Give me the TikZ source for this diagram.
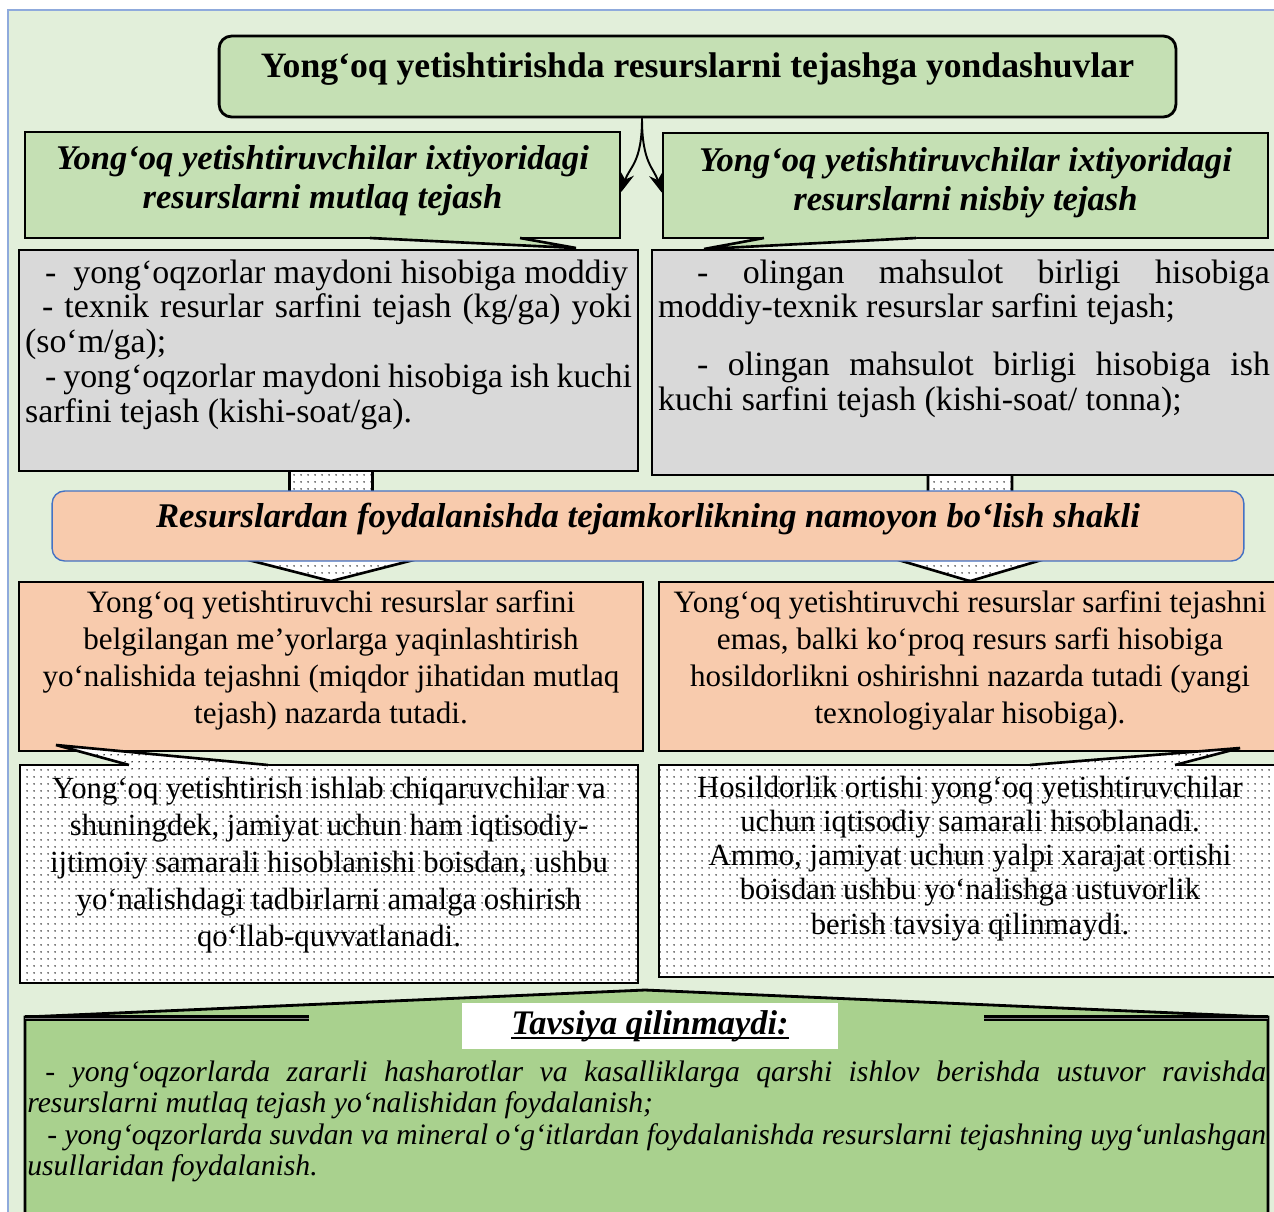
\documentclass[tikz,border=0pt]{standalone}
\usepackage{fontspec}
\setmainfont{Liberation Serif}
\usepackage{graphicx}
\usetikzlibrary{arrows.meta,patterns.meta,calc,positioning}

\definecolor{panelfill}{HTML}{E2EFDA}
\definecolor{panelline}{HTML}{8FAADC}
\definecolor{headgreen}{HTML}{C5E0B4}
\definecolor{boxgray}{HTML}{D9D9D9}
\definecolor{peach}{HTML}{F8CBAD}
\definecolor{formblue}{HTML}{4472C4}
\definecolor{advicegreen}{HTML}{A9D18E}

% box text: width, height, alignment, top skip, text
\newcommand{\cell}[5]{\parbox[c][#2][t]{#1}{#3\vspace*{#4}\strut#5}}
\newcommand{\fullline}[1]{\makebox[\hsize][s]{#1}}
\newcommand{\fitline}[1]{\resizebox{\hsize}{\height}{#1}}
\newsavebox{\linebox}
\newcommand{\lowline}[1]{\sbox{\linebox}{#1}\rlap{\rule[-2.6pt]{\wd\linebox}{1.1pt}}\usebox{\linebox}}

\tikzset{
  panel/.style={draw=panelline, line width=1.2pt, fill=panelfill},
  titlebox/.style={draw=black, line width=1.6pt, fill=headgreen, rounded corners=0.25cm,
    inner xsep=0.1cm, font=\fontsize{20.3}{24}\selectfont\bfseries},
  callbox/.style={draw=black, line width=1.5pt, fill=headgreen, inner xsep=0.1cm,
    font=\fontsize{19.7}{22.2}\selectfont\bfseries\itshape},
  calltail/.style={fill=headgreen},
  tailline/.style={draw=black, line width=1.5pt},
  graybox/.style={draw=black, line width=1pt, fill=boxgray, inner xsep=0.12cm,
    font=\fontsize{19.3}{19.9}\selectfont},
  formbox/.style={draw=formblue, line width=0.8pt, fill=peach, rounded corners=0.25cm,
    inner xsep=0.1cm, font=\fontsize{19.7}{22}\selectfont\bfseries\itshape},
  peachbox/.style={draw=black, line width=1pt, fill=peach, inner xsep=0.1cm,
    font=\fontsize{17.7}{21}\selectfont},
  dotfill/.style={preaction={fill=white}, pattern={Dots[distance=4pt, radius=0.5pt]}},
  dotbox/.style={dotfill, draw=black, line width=1.5pt, inner xsep=0.1cm,
    font=\fontsize{17.5}{21}\selectfont},
  blockarrow/.style={dotfill, draw=black, line width=1.5pt},
  splitarrow/.style={-{Stealth[length=11pt,width=8pt]}, line width=1.1pt},
  advicebox/.style={draw=black, line width=1.6pt, fill=advicegreen},
  rimline/.style={draw=black, line width=1.5pt, double=gray, double distance=0.5pt},
  verdictbox/.style={fill=white, minimum width=7.52cm, minimum height=0.92cm,
    font=\fontsize{19.6}{22}\selectfont\bfseries\itshape},
  advicetext/.style={anchor=base west, font=\fontsize{16.9}{18}\selectfont\itshape},
}

\begin{document}
\begin{tikzpicture}[x=0.02cm,y=-0.02cm]
\tikzstyle{every node}+=[inner sep=0pt]
\useasboundingbox (0,0) rectangle (1274,1211);
\clip (0,0) rectangle (1274,1211);
% background panel
\draw[panel] (8,10) rectangle (1290,1240);

% heading and the two ways
\node[titlebox] (title) at (697.5,76.5)
  {\cell{18.94cm}{1.62cm}{\centering}{0.23cm}{Yong‘oq yetishtirishda resurslarni tejashga yondashuvlar}};
\node[callbox] (mutlaq) at (322.5,185)
  {\cell{11.7cm}{2.12cm}{\centering}{0.2cm}{Yong‘oq yetishtiruvchilar ixtiyoridagi\\resurslarni mutlaq tejash}};
\node[callbox] (nisbiy) at (965.5,185.5)
  {\cell{11.9cm}{2.1cm}{\centering}{0.22cm}{Yong‘oq yetishtiruvchilar ixtiyoridagi\\resurslarni nisbiy tejash}};
\path[calltail] (370,231) -- (370,238) -- (576,248) -- (520,238) -- (520,231) -- cycle;
\draw[tailline] (370,238) -- (576,248) -- (520,238);
\path[calltail] (764,231) -- (764,238) -- (704,249) -- (916,238) -- (916,231) -- cycle;
\draw[tailline] (764,238) -- (704,249) -- (916,238);

\coordinate (split) at ($(title.south)+(-55.5,0)$);
\draw[splitarrow] (split) .. controls +(0,45) and +(8,-25) .. ([yshift=-0.14cm]mutlaq.east);
\draw[splitarrow] (split) .. controls +(0,45) and +(-8,-25) .. ([yshift=-0.14cm]nisbiy.west);

% forms of saving
\node[peachbox] (peachL) at (331,666.5)
  {\cell{12.28cm}{3.38cm}{\centering}{0.1cm}{Yong‘oq yetishtiruvchi resurslar sarfini\\
   belgilangan me’yorlarga yaqinlashtirish\\
   yo‘nalishida tejashni (miqdor jihatidan mutlaq\\
   tejash) nazarda tutadi.}};
\node[peachbox] (peachR) at (970,666.5)
  {\cell{12.24cm}{3.38cm}{\centering}{0.1cm}{Yong‘oq yetishtiruvchi resurslar sarfini tejashni\\
   emas, balki ko‘proq resurs sarfi hisobiga\\
   hosildorlikni oshirishni nazarda tutadi (yangi\\
   texnologiyalar hisobiga).}};

\draw[blockarrow] (peachL.north) -- ++(101.5,-26) -- ++(-60,0) -- ++(0,-85) -- ++(-83,0)
  -- ++(0,85) -- ++(-60,0) -- cycle;
\draw[blockarrow] (peachR.north) -- ++(88,-26) -- ++(-46,0) -- ++(0,-81) -- ++(-84,0)
  -- ++(0,81) -- ++(-46,0) -- cycle;

\node[graybox] (grayL) at (328.5,360.5)
  {\cell{12.14cm}{4.42cm}{\raggedright}{0.17cm}{\hspace*{0.4cm}-\ \ yong‘oqzorlar maydoni hisobiga moddiy\\
   \fullline{\hspace*{0.34cm}- texnik resurlar sarfini tejash (kg/ga) yoki}\\
   (so‘m/ga);\\
   \fullline{\hspace*{0.4cm}- yong‘oqzorlar maydoni hisobiga ish kuchi}\\
   sarfini tejash (kishi-soat/ga).}};
\node[graybox] (grayR) at (964,362.5)
  {\cell{12.24cm}{4.5cm}{\raggedright}{0.17cm}{\fullline{\hspace*{0.78cm}- olingan mahsulot birligi hisobiga}\\
   moddiy-texnik resurslar sarfini tejash;\\[0.45cm]
   \fullline{\hspace*{0.78cm}- olingan mahsulot birligi hisobiga ish}\\
   kuchi sarfini tejash (kishi-soat/ tonna);}};

\node[formbox] (forms) at (648,526)
  {\cell{23.64cm}{1.4cm}{\centering}{0.18cm}{Resurslardan foydalanishda tejamkorlikning namoyon bo‘lish shakli}};

% assessment
\node[dotbox] (dotL) at (329,874)
  {\cell{12.16cm}{4.36cm}{\centering}{0.16cm}{Yong‘oq yetishtirish ishlab chiqaruvchilar va\\
   shuningdek, jamiyat uchun ham iqtisodiy-\\
   ijtimoiy samarali hisoblanishi boisdan, ushbu\\
   yo‘nalishdagi tadbirlarni amalga oshirish\\
   qo‘llab-quvvatlanadi.}};
\node[dotbox, font=\fontsize{17.5}{19.5}\selectfont] (dotR) at (970,871)
  {\cell{12.24cm}{4.24cm}{\centering}{0.16cm}{Hosildorlik ortishi yong‘oq yetishtiruvchilar\\
   uchun iqtisodiy samarali hisoblanadi.\\
   Ammo, jamiyat uchun yalpi xarajat ortishi\\
   boisdan ushbu yo‘nalishga ustuvorlik\\
   berish tavsiya qilinmaydi.}};
\path[dotfill] (129,772) -- (129,765) -- (56,745) -- (268,765) -- (268,772) -- cycle;
\draw[tailline] (129,765) -- (56,745) -- (268,765);
\path[dotfill] (1030,772) -- (1030,765) -- (1240,748) -- (1175,765) -- (1175,772) -- cycle;
\draw[tailline] (1030,765) -- (1240,748) -- (1175,765);

% not recommended
\draw[advicebox] (25,1017) -- (645,990) -- (1268,1017) -- (1268,1240) -- (25,1240) -- cycle;
\draw[rimline] (25,1018) -- (309,1018);
\draw[rimline] (984,1018) -- (1268,1018);
\node[verdictbox] (verdict) at (650,1026) {\lowline{Tavsiya qilinmaydi:}};
\node[advicetext] (advice) at (27,1081)
  {\parbox[t]{24.78cm}{\raggedright
   \fullline{\hspace*{0.36cm}- yong‘oqzorlarda zararli hasharotlar va kasalliklarga qarshi ishlov berishda ustuvor ravishda}\\
   resurslarni mutlaq tejash yo‘nalishidan foydalanish;\\
   \fitline{\hspace*{0.4cm}- yong‘oqzorlarda suvdan va mineral o‘g‘itlardan foydalanishda resurslarni tejashning uyg‘unlashgan}\\
   usullaridan foydalanish.}};
\end{tikzpicture}
\end{document}
